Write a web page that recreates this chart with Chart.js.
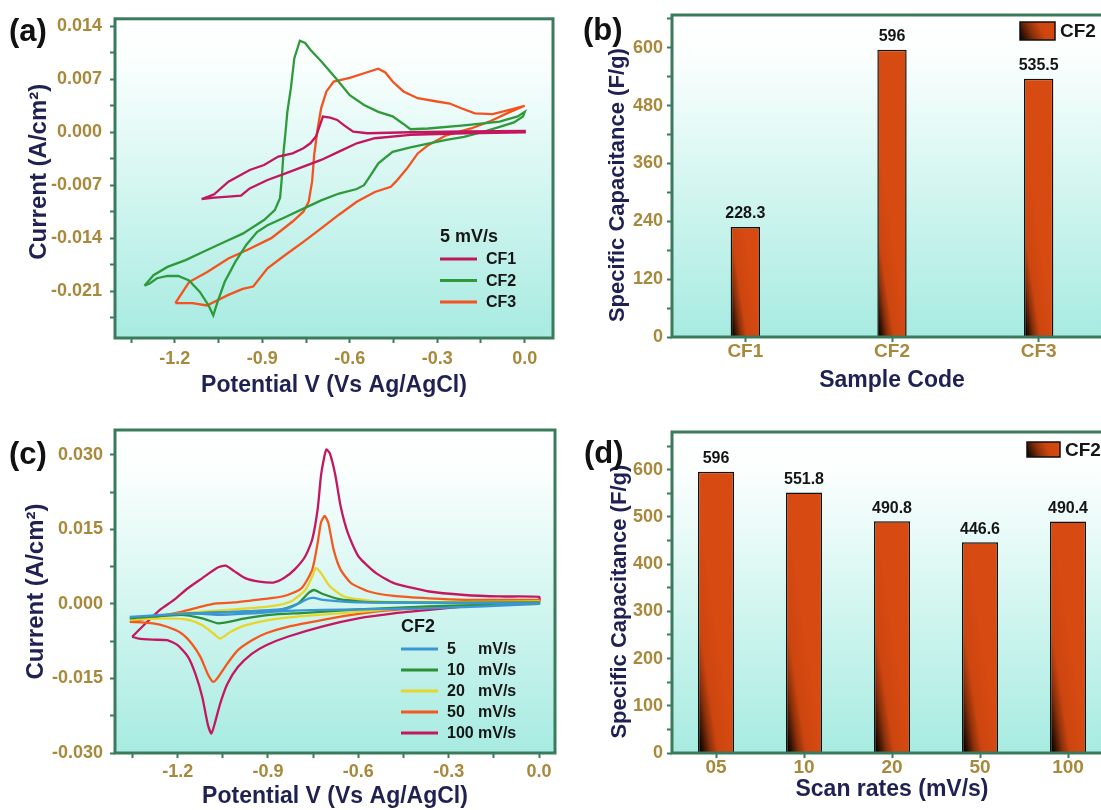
<!DOCTYPE html>
<html>
<head>
<meta charset="utf-8">
<script src="https://cdn.jsdelivr.net/npm/chart.js@4.4.1/dist/chart.umd.min.js"></script>
<style>
  html, body { margin: 0; padding: 0; background: #fff; }
  body { width: 1101px; height: 810px; position: relative; overflow: hidden; }
  canvas { position: absolute; }
  .tag { position: absolute; z-index: 2; font: bold 31px 'Liberation Sans', Arial, sans-serif; line-height: 1; color: #111; }
</style>
</head>
<body>
<div class="tag" style="left:9px; top:15px">(a)</div>
<div class="tag" style="left:583px; top:14px">(b)</div>
<div class="tag" style="left:9px; top:438px">(c)</div>
<div class="tag" style="left:584px; top:437px">(d)</div>
<canvas id="cvA" width="560" height="400" style="left:0; top:0"></canvas>
<canvas id="barB" width="560" height="400" style="left:560px; top:0"></canvas>
<canvas id="cvC" width="560" height="400" style="left:0; top:410px"></canvas>
<canvas id="barD" width="560" height="400" style="left:560px; top:410px"></canvas>
<script>
// (a) CV loops at 5 mV/s, [potential V, current A/cm2]
const cf1Loop = [
  [-1.108,-0.00883],[-1.065,-0.00821],[-1.016,-0.00653],[-0.943,-0.00499],[-0.894,-0.00433],
  [-0.845,-0.00322],[-0.796,-0.00278],[-0.759,-0.00212],[-0.735,-0.00146],[-0.716,-0.00057],
  [-0.704,0.00075],[-0.692,0.00207],[-0.667,0.00194],[-0.643,0.00163],[-0.618,0.00088],
  [-0.588,0.00009],[-0.539,-0.00013],[-0.392,0.0],[-0.208,0.00013],[0.0,0.00018],
  [0.0,0.0],[-0.208,-0.00013],[-0.392,-0.00035],[-0.514,-0.00079],[-0.576,-0.00146],
  [-0.637,-0.00256],[-0.698,-0.00366],[-0.759,-0.00455],[-0.820,-0.00543],[-0.882,-0.00631],
  [-0.943,-0.00742],[-0.973,-0.00839],[-1.016,-0.00852],[-1.065,-0.00865],[-1.108,-0.00883]
];
const cf2Loop = [
  [-1.304,-0.0203],[-1.273,-0.0189],[-1.225,-0.0178],[-1.163,-0.0169],[-1.102,-0.0158],
  [-1.041,-0.0147],[-0.967,-0.0134],[-0.894,-0.0116],[-0.857,-0.0103],[-0.839,-0.0087],
  [-0.833,-0.0061],[-0.827,-0.0026],[-0.820,0.0001],[-0.814,0.0027],[-0.802,0.0058],
  [-0.790,0.0098],[-0.771,0.0121],[-0.753,0.0118],[-0.735,0.0109],[-0.698,0.0094],
  [-0.649,0.0072],[-0.600,0.0049],[-0.551,0.0036],[-0.502,0.0027],[-0.453,0.0021],
  [-0.416,0.0011],[-0.392,0.0004],[-0.331,0.0005],[-0.208,0.0009],[-0.086,0.0014],
  [-0.024,0.0021],[0.0,0.0027],
  [-0.006,0.0021],[-0.037,0.0013],[-0.086,0.0007],[-0.147,0.0],[-0.208,-0.0006],
  [-0.269,-0.0010],[-0.331,-0.0015],[-0.392,-0.0020],[-0.453,-0.0026],[-0.502,-0.0041],
  [-0.527,-0.0056],[-0.551,-0.0070],[-0.576,-0.0075],[-0.637,-0.0081],[-0.698,-0.0090],
  [-0.759,-0.0101],[-0.820,-0.0112],[-0.882,-0.0123],[-0.918,-0.0132],[-0.955,-0.0149],
  [-0.992,-0.0171],[-1.029,-0.0198],[-1.053,-0.0224],[-1.068,-0.0242],[-1.084,-0.0229],
  [-1.114,-0.0211],[-1.151,-0.0196],[-1.188,-0.0190],[-1.225,-0.0190],[-1.261,-0.0193],
  [-1.286,-0.0200],[-1.304,-0.0203]
];
const cf3Loop = [
  [-1.198,-0.0226],[-1.151,-0.0198],[-1.090,-0.0185],[-1.016,-0.0167],[-0.943,-0.0154],
  [-0.869,-0.0140],[-0.796,-0.0118],[-0.759,-0.0105],[-0.741,-0.0092],[-0.729,-0.0065],
  [-0.722,-0.0030],[-0.710,0.0005],[-0.698,0.0032],[-0.680,0.0054],[-0.655,0.0067],
  [-0.600,0.0072],[-0.551,0.0078],[-0.502,0.0084],[-0.478,0.0079],[-0.453,0.0067],
  [-0.416,0.0054],[-0.367,0.0045],[-0.306,0.0041],[-0.257,0.0038],[-0.220,0.0032],
  [-0.171,0.0025],[-0.110,0.0024],[-0.049,0.0030],[0.0,0.0035],
  [-0.061,0.0025],[-0.122,0.0014],[-0.184,0.0005],[-0.269,-0.0004],[-0.331,-0.0017],
  [-0.367,-0.0028],[-0.404,-0.0048],[-0.441,-0.0065],[-0.459,-0.0072],[-0.514,-0.0079],
  [-0.576,-0.0092],[-0.637,-0.0109],[-0.698,-0.0127],[-0.759,-0.0145],[-0.820,-0.0162],
  [-0.882,-0.0180],[-0.931,-0.0204],[-0.967,-0.0207],[-1.016,-0.0215],[-1.090,-0.0229],
  [-1.139,-0.0226],[-1.198,-0.0226]
];

// (c) CF2 at different scan rates
const cf2Rate5 = [
  [-1.359,-0.0026],[-1.188,-0.0020],[-1.012,-0.0016],[-0.835,-0.0009],[-0.765,0.0011],
  [-0.747,0.0012],[-0.718,0.0008],[-0.600,0.0003],[0.0,0.0001],
  [0.0,0.0],[-0.365,-0.0009],[-0.718,-0.0012],[-0.835,-0.0014],[-0.953,-0.0019],
  [-1.059,-0.0022],[-1.118,-0.0020],[-1.188,-0.0020],[-1.359,-0.0026]
];
const cf2Rate10 = [
  [-1.359,-0.0029],[-1.188,-0.0020],[-1.012,-0.0016],[-0.859,-0.0012],[-0.800,0.0001],
  [-0.765,0.0022],[-0.747,0.0028],[-0.718,0.0020],[-0.659,0.0009],[-0.541,0.0003],[0.0,0.0003],
  [0.0,0.0001],[-0.365,-0.0005],[-0.600,-0.0011],[-0.776,-0.0018],[-0.894,-0.0022],
  [-0.976,-0.0029],[-1.065,-0.0039],[-1.118,-0.0029],[-1.188,-0.0022],[-1.359,-0.0029]
];
const cf2Rate20 = [
  [-1.359,-0.0032],[-1.247,-0.0022],[-1.129,-0.0016],[-1.012,-0.0011],[-0.894,-0.0005],
  [-0.824,0.0005],[-0.776,0.0028],[-0.753,0.0055],[-0.741,0.0072],[-0.724,0.0062],
  [-0.694,0.0035],[-0.647,0.0015],[-0.541,0.0005],[-0.365,0.0003],[0.0,0.0005],
  [0.0,0.0],[-0.365,-0.0005],[-0.600,-0.0016],[-0.776,-0.0024],[-0.894,-0.0032],
  [-0.976,-0.0043],[-1.024,-0.0056],[-1.059,-0.0070],[-1.082,-0.0059],[-1.118,-0.0043],
  [-1.165,-0.0032],[-1.247,-0.0029],[-1.359,-0.0032]
];
const cf2Rate50 = [
  [-1.359,-0.0036],[-1.282,-0.0027],[-1.188,-0.0016],[-1.118,-0.0005],[-1.071,0.0001],
  [-1.012,0.0003],[-0.953,0.0007],[-0.882,0.0012],[-0.835,0.0018],[-0.788,0.0032],
  [-0.753,0.0069],[-0.735,0.0123],[-0.724,0.0164],[-0.712,0.0177],[-0.700,0.0164],
  [-0.682,0.0109],[-0.659,0.0069],[-0.624,0.0042],[-0.565,0.0025],[-0.482,0.0016],
  [-0.365,0.0011],[-0.247,0.0008],[0.0,0.0008],
  [0.0,0.0003],[-0.247,-0.0004],[-0.482,-0.0012],[-0.600,-0.0020],[-0.718,-0.0032],
  [-0.835,-0.0046],[-0.906,-0.0059],[-0.953,-0.0073],[-1.000,-0.0093],[-1.035,-0.0120],
  [-1.065,-0.0147],[-1.082,-0.0157],[-1.100,-0.0141],[-1.124,-0.0107],[-1.153,-0.0080],
  [-1.188,-0.0059],[-1.235,-0.0046],[-1.282,-0.0039],[-1.359,-0.0036]
];
const cf2Rate100 = [
  [-1.351,-0.0066],[-1.306,-0.0039],[-1.259,-0.0012],[-1.212,0.0008],[-1.165,0.0032],
  [-1.118,0.0052],[-1.071,0.0072],[-1.041,0.0077],[-1.012,0.0066],[-0.976,0.0052],
  [-0.929,0.0045],[-0.882,0.0043],[-0.847,0.0052],[-0.812,0.0069],[-0.776,0.0096],
  [-0.753,0.0130],[-0.735,0.0191],[-0.724,0.0258],[-0.712,0.0299],[-0.706,0.0311],
  [-0.694,0.0302],[-0.676,0.0258],[-0.659,0.0197],[-0.635,0.0143],[-0.600,0.0096],
  [-0.541,0.0062],[-0.482,0.0042],[-0.365,0.0025],[-0.247,0.0018],[-0.129,0.0015],[0.0,0.0014],
  [0.0,0.0005],[-0.129,0.0],[-0.247,-0.0005],[-0.365,-0.0012],[-0.482,-0.0019],
  [-0.600,-0.0029],[-0.718,-0.0045],[-0.835,-0.0066],[-0.906,-0.0083],[-0.953,-0.0100],
  [-1.000,-0.0127],[-1.035,-0.0161],[-1.059,-0.0201],[-1.076,-0.0239],[-1.088,-0.0261],
  [-1.100,-0.0242],[-1.118,-0.0188],[-1.141,-0.0141],[-1.165,-0.0107],[-1.200,-0.0083],
  [-1.235,-0.0073],[-1.282,-0.0072],[-1.329,-0.0070],[-1.351,-0.0066]
];

// (b) and (d) specific capacitance
const sampleCodes = ['CF1', 'CF2', 'CF3'];
const sampleCapacitance = [228.3, 596, 535.5];
const scanRates = ['05', '10', '20', '50', '100'];
const scanCapacitance = [596, 551.8, 490.8, 446.6, 490.4];

const FONT = "'Liberation Sans', Arial, sans-serif";
const FRAME = '#3b7a5d';
const TICK = '#a8893b';
const TITLE = '#1f2152';

Chart.defaults.font.family = FONT;
Chart.defaults.font.weight = 'bold';

const isMajor = (v, step) => Math.abs(v / step - Math.round(v / step)) < 1e-6;
const toPoints = arr => arr.map(p => ({x: p[0], y: p[1]}));

// background gradient + frame round the plot area
const panelFrame = {
  id: 'panelFrame',
  beforeDatasetsDraw(chart) {
    const {ctx, chartArea: a} = chart;
    const g = ctx.createLinearGradient(0, a.top, 0, a.bottom);
    g.addColorStop(0, '#ffffff');
    g.addColorStop(0.12, '#fbfffe');
    g.addColorStop(1, '#a7ebe1');
    ctx.save();
    ctx.fillStyle = g;
    ctx.fillRect(a.left, a.top, a.width, a.height);
    ctx.restore();
  },
  afterDraw(chart) {
    const {ctx, chartArea: a} = chart;
    ctx.save();
    ctx.strokeStyle = FRAME;
    ctx.lineWidth = 3;
    ctx.strokeRect(a.left, a.top, a.width, a.height);
    ctx.restore();
  }
};

const cvLegend = {
  id: 'cvLegend',
  afterDatasetsDraw(chart, args, o) {
    const {ctx} = chart;
    ctx.save();
    ctx.textBaseline = 'middle';
    ctx.fillStyle = '#161616';
    ctx.font = 'bold 18px ' + FONT;
    ctx.fillText(o.title, o.x, o.titleY);
    ctx.font = 'bold 16px ' + FONT;
    chart.data.datasets.forEach((ds, i) => {
      const y = o.y0 + i * o.dy;
      ctx.strokeStyle = ds.borderColor;
      ctx.lineWidth = 3;
      ctx.beginPath();
      ctx.moveTo(o.x, y);
      ctx.lineTo(o.x + o.len, y);
      ctx.stroke();
      const parts = ds.label.split(' ');
      if (o.unitX) {
        ctx.fillText(parts[0], o.textX, y + 1);
        ctx.fillText(parts[1], o.unitX, y + 1);
      } else {
        ctx.fillText(ds.label, o.textX, y + 1);
      }
    });
    ctx.restore();
  }
};

function barGradient(ratio) {
  return function(c) {
    const chart = c.chart;
    const {scales, chartArea} = chart;
    if (!chartArea || c.type !== 'data' || !scales.x) return '#d4470f';
    const cx = scales.x.getPixelForValue(c.dataIndex);
    const w = scales.x.width / chart.data.labels.length * ratio;
    const base = scales.y.getPixelForValue(0);
    const g = chart.ctx.createLinearGradient(cx - w / 2, base, cx + w / 2, base - 0.15 * w);
    g.addColorStop(0, '#000000');
    g.addColorStop(0.12, '#1e0a02');
    g.addColorStop(0.35, '#8a300a');
    g.addColorStop(0.55, '#cc450f');
    g.addColorStop(1, '#d74a12');
    return g;
  };
}

const barValues = {
  id: 'barValues',
  afterDatasetsDraw(chart) {
    const {ctx} = chart;
    const ds = chart.data.datasets[0];
    ctx.save();
    ctx.font = 'bold 16px ' + FONT;
    ctx.fillStyle = '#151515';
    ctx.textAlign = 'center';
    ctx.textBaseline = 'bottom';
    chart.getDatasetMeta(0).data.forEach((bar, i) => {
      ctx.fillText(String(ds.data[i]), bar.x, bar.y - 5);
    });
    ctx.restore();
  }
};

const barLegend = {
  id: 'barLegend',
  afterDatasetsDraw(chart, args, o) {
    const {ctx} = chart;
    ctx.save();
    const g = ctx.createLinearGradient(o.x, o.y + o.h, o.x + o.w, o.y);
    g.addColorStop(0, '#000000');
    g.addColorStop(0.35, '#8a300a');
    g.addColorStop(0.6, '#cc450f');
    g.addColorStop(1, '#d74a12');
    ctx.fillStyle = g;
    ctx.fillRect(o.x, o.y, o.w, o.h);
    ctx.strokeStyle = '#111';
    ctx.lineWidth = 1.5;
    ctx.strokeRect(o.x, o.y, o.w, o.h);
    ctx.font = 'bold 19px ' + FONT;
    ctx.fillStyle = '#151515';
    ctx.textBaseline = 'middle';
    ctx.fillText(chart.data.datasets[0].label, o.x + o.w + 5, o.y + o.h / 2 + 1);
    ctx.restore();
  }
};

function tickGrid() {
  return {
    drawOnChartArea: false,
    drawTicks: true,
    tickLength: 5,
    tickColor: FRAME,
    tickWidth: 2
  };
}

function axisTitle(text, size, padding) {
  return {display: true, text: text, color: TITLE, font: {size: size, weight: 'bold'}, padding: padding};
}

function cvOptions(p) {
  return {
    responsive: false,
    animation: false,
    layout: {padding: p.pad},
    plugins: {legend: {display: false}, tooltip: {enabled: false}, cvLegend: p.legend},
    elements: {point: {radius: 0}, line: {borderWidth: 2.3, tension: p.tension}},
    scales: {
      x: {
        type: 'linear', min: p.xMin, max: p.xMax,
        border: {display: false},
        grid: tickGrid(),
        ticks: {
          stepSize: 0.15, includeBounds: false, autoSkip: false, maxRotation: 0,
          padding: p.xTickPad, color: TICK, font: {size: 18, weight: 'bold'},
          callback: v => isMajor(v, 0.3) ? (Math.abs(v) < 1e-9 ? 0 : v).toFixed(1) : ''
        },
        title: axisTitle('Potential V (Vs Ag/AgCl)', 23, {top: 0, bottom: p.xTitlePad}),
        afterFit: s => { s.height = p.xBox; }
      },
      y: {
        type: 'linear', min: p.yMin, max: p.yMax,
        border: {display: false},
        grid: tickGrid(),
        ticks: {
          stepSize: p.yStep / 2, includeBounds: false, autoSkip: false,
          padding: p.yTickPad, color: TICK, font: {size: 18, weight: 'bold'},
          callback: v => isMajor(v, p.yStep) ? (Math.abs(v) < 1e-9 ? 0 : v).toFixed(3) : ''
        },
        title: axisTitle(p.yTitle, 24, {top: p.yTitlePad, bottom: 0}),
        afterFit: s => { s.width = p.yBox; }
      }
    }
  };
}

function barOptions(p) {
  return {
    responsive: false,
    animation: false,
    layout: {padding: p.pad},
    plugins: {legend: {display: false}, tooltip: {enabled: false}, barLegend: p.legend},
    scales: {
      x: {
        offset: true,
        border: {display: false},
        grid: Object.assign(tickGrid(), {offset: false}),
        ticks: {padding: p.xTickPad, color: TICK, font: {size: 19, weight: 'bold'}, maxRotation: 0},
        title: axisTitle(p.xTitle, 23, {top: 0, bottom: p.xTitlePad}),
        afterFit: s => { s.height = p.xBox; }
      },
      y: {
        min: 0, max: p.yMax,
        border: {display: false},
        grid: tickGrid(),
        ticks: {
          stepSize: p.yStep / 2, includeBounds: false, autoSkip: false,
          padding: 4, color: TICK, font: {size: 18, weight: 'bold'},
          callback: v => isMajor(v, p.yStep) ? String(v) : ''
        },
        // trailing spaces push the rotated title a little down, as in the figure
        title: axisTitle('Specific Capacitance (F/g)   ', 22, {top: p.yTitlePad, bottom: 0}),
        afterFit: s => { s.width = 112; }
      }
    }
  };
}

new Chart(document.getElementById('cvA'), {
  type: 'scatter',
  data: {
    datasets: [
      {label: 'CF1', data: toPoints(cf1Loop), borderColor: '#c2175f', showLine: true},
      {label: 'CF2', data: toPoints(cf2Loop), borderColor: '#2f9a3c', showLine: true},
      {label: 'CF3', data: toPoints(cf3Loop), borderColor: '#f4521f', showLine: true}
    ]
  },
  options: cvOptions({
    pad: {top: 17, right: 7, left: 0, bottom: 0},
    xMin: -1.405, xMax: 0.097, yMin: -0.0272, yMax: 0.0150, yStep: 0.007,
    xTickPad: 5, xTitlePad: 1, xBox: 62, yTickPad: 8, yTitlePad: 25, yBox: 115, tension: 0,
    yTitle: '  Current (A/cm²)',
    legend: {title: '5 mV/s', x: 440, titleY: 237, y0: 259, dy: 21.5, len: 37, textX: 486}
  }),
  plugins: [panelFrame, cvLegend]
});

new Chart(document.getElementById('cvC'), {
  type: 'scatter',
  data: {
    datasets: [
      {label: '5 mV/s', data: toPoints(cf2Rate5), borderColor: '#3a97d4', showLine: true},
      {label: '10 mV/s', data: toPoints(cf2Rate10), borderColor: '#2a9135', showLine: true},
      {label: '20 mV/s', data: toPoints(cf2Rate20), borderColor: '#e6d62c', showLine: true},
      {label: '50 mV/s', data: toPoints(cf2Rate50), borderColor: '#f4581f', showLine: true},
      {label: '100 mV/s', data: toPoints(cf2Rate100), borderColor: '#c4175f', showLine: true}
    ]
  },
  options: cvOptions({
    pad: {top: 20, right: 5, left: 0, bottom: 0},
    xMin: -1.408, xMax: 0.053, yMin: -0.030, yMax: 0.035, yStep: 0.015,
    xTickPad: 3, xTitlePad: 0, xBox: 57, yTickPad: 7, yTitlePad: 22, yBox: 115, tension: 0.2,
    yTitle: 'Current (A/cm²)',
    legend: {title: 'CF2', x: 401, titleY: 217, y0: 239, dy: 21, len: 37, textX: 447, unitX: 478}
  }),
  plugins: [panelFrame, cvLegend]
});

new Chart(document.getElementById('barB'), {
  type: 'bar',
  data: {
    labels: sampleCodes,
    datasets: [{
      label: 'CF2', data: sampleCapacitance,
      backgroundColor: barGradient(0.2), borderColor: '#111', borderWidth: 1.5,
      categoryPercentage: 1, barPercentage: 0.2
    }]
  },
  options: barOptions({
    pad: {top: 15, right: 8, left: 0, bottom: 0},
    yMax: 668, yStep: 120, xBox: 63, xTickPad: -2, xTitle: 'Sample Code', xTitlePad: 6, yTitlePad: 45,
    legend: {x: 460, y: 22, w: 35, h: 18}
  }),
  plugins: [panelFrame, barValues, barLegend]
});

new Chart(document.getElementById('barD'), {
  type: 'bar',
  data: {
    labels: scanRates,
    datasets: [{
      label: 'CF2', data: scanCapacitance,
      backgroundColor: barGradient(0.41), borderColor: '#111', borderWidth: 1.5,
      categoryPercentage: 1, barPercentage: 0.41
    }]
  },
  options: barOptions({
    pad: {top: 22, right: 8, left: 0, bottom: 0},
    yMax: 680, yStep: 100, xBox: 57, xTickPad: -2, xTitle: 'Scan rates (mV/s)', xTitlePad: 7, yTitlePad: 47,
    legend: {x: 467, y: 32, w: 33, h: 15}
  }),
  plugins: [panelFrame, barValues, barLegend]
});
</script>
</body>
</html>
